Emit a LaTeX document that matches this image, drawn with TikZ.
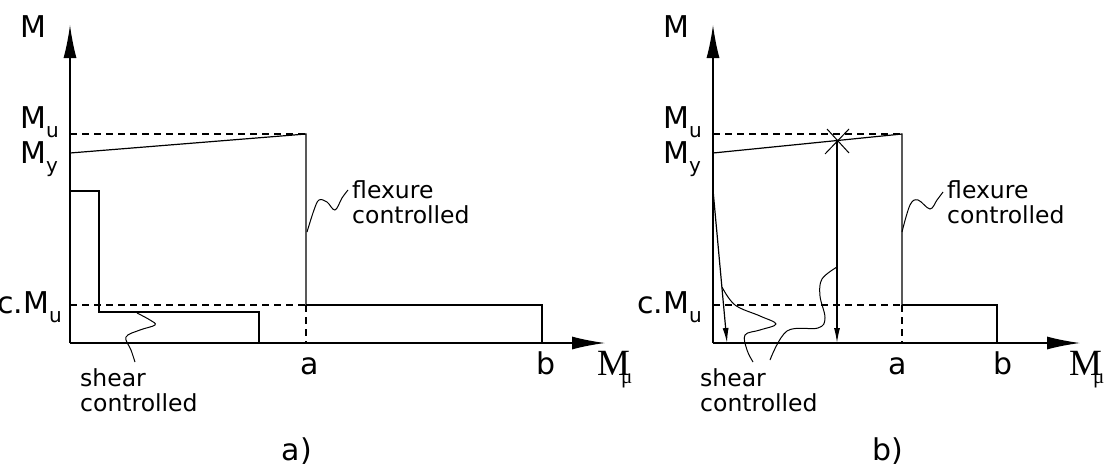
\documentclass[tikz,border=0pt]{standalone}
\usepackage{fontspec}
\setmainfont{DejaVu Sans}
\newfontfamily\serifmu{Liberation Serif}
\usetikzlibrary{arrows.meta}

\newcommand{\lowsub}[1]{\raisebox{-9pt}{\fontsize{20}{20}\selectfont #1}}
\newcommand{\mulabel}{{\serifmu\fontsize{37}{37}\selectfont M\kern-9pt\raisebox{-8pt}{\fontsize{21}{21}\selectfont μ}}}

\begin{document}
\begin{tikzpicture}[x=1pt, y=-1pt,
  % Line Styles
  curve/.style={line width=1.2pt, line join=miter},
  guide/.style={line width=1.2pt, dash pattern=on 7pt off 5pt},
  wiggle/.style={line width=1pt},
  % Arrow Styles
  axisarrow/.style={-{Latex[length=33pt,width=13pt]}, line width=1.3pt},
  drop/.style={-{Latex[length=15pt,width=6pt]}, line width=1.2pt},
  % Label Styles
  biglabel/.style={inner sep=0pt, font=\fontsize{30}{30}\selectfont},
  textlabel/.style={inner sep=0pt, align=left, anchor=north west, font=\fontsize{23.5}{25}\selectfont},
]
\useasboundingbox (0,0) rectangle (1118,471);

% Diagram a)

\coordinate (O_A) at (70,343);
\coordinate (Mu_A) at (306,134);
\coordinate (cMu_A) at (306,305);
\draw[axisarrow] (O_A) -- (70,25);
\draw[axisarrow] (O_A) -- (605,343);

\draw[guide] (70,134) -- (Mu_A);
\draw[curve] (70,153) -- (Mu_A) -- (cMu_A);
\draw[guide] (cMu_A) -- (306,343);
\draw[guide] (70,305) -- (cMu_A);
\draw[curve] (cMu_A) -- (542,305) -- (542,343);
\draw[curve] (70,191) -- (99,191) -- (99,312) -- (259,312) -- (259,343);

\node[biglabel, anchor=base west] (M_A) at (20,37) {M};
\node[biglabel, anchor=base west] (Mu_label_A) at (20,128) {M\lowsub{u}};
\node[biglabel, anchor=base west] (My_label_A) at (20,163) {M\lowsub{y}};
\node[biglabel, anchor=base east] (cMu_label_A) at (62,313) {c.M\lowsub{u}};
\node[biglabel, anchor=base] (a_A) at (310,374) {a};
\node[biglabel, anchor=base] (b_A) at (546,374) {b};
\node[inner sep=0pt, anchor=base west] (mu_A) at (597,375) {\mulabel};
\node[biglabel, anchor=base] (cap_A) at (297,460) {a)};

\node[textlabel] (flex_A) at (352,180) {flexure\\controlled};
\node[textlabel] (shear_A) at (80,368) {shear\\controlled};
\coordinate (flex_end_A) at (348,190);
\coordinate (shear_end_A) at (135,362);
\draw[wiggle] plot[smooth, tension=0.6] coordinates {(307,232) (314,210) (319,200) (327,202) (335,210) (342,198) (flex_end_A)};
\draw[wiggle] plot[smooth, tension=0.6] coordinates {(137,313) (150,320) (155,325) (140,330) (126,337) (131,350) (shear_end_A)};

% Diagram b)

\coordinate (O_B) at (713,343);
\coordinate (Mu_B) at (902,134);
\coordinate (cMu_B) at (902,305);
\coordinate (X_B) at (837,141);
\draw[axisarrow] (O_B) -- (713,25);
\draw[axisarrow] (O_B) -- (1080,343);

\draw[guide] (713,134) -- (Mu_B);
\draw[curve] (713,153) -- (Mu_B) -- (cMu_B);
\draw[guide] (cMu_B) -- (902,343);
\draw[guide] (713,305) -- (cMu_B);
\draw[curve] (cMu_B) -- (997,305) -- (997,343);

\draw[wiggle] (825,154) -- (849,129);
\draw[wiggle] (827,129) -- (849,153);
\draw[drop] (X_B) -- (837,343);
\draw[drop] (713,190) -- (727,343);

\node[biglabel, anchor=base west] (M_B) at (663,37) {M};
\node[biglabel, anchor=base west] (Mu_label_B) at (663,128) {M\lowsub{u}};
\node[biglabel, anchor=base west] (My_label_B) at (663,163) {M\lowsub{y}};
\node[biglabel, anchor=base east] (cMu_label_B) at (702,313) {c.M\lowsub{u}};
\node[biglabel, anchor=base] (a_B) at (898,374) {a};
\node[biglabel, anchor=base] (b_B) at (1003,374) {b};
\node[inner sep=0pt, anchor=base west] (mu_B) at (1069,375) {\mulabel};
\node[biglabel, anchor=base] (cap_B) at (888,460) {b)};

\node[textlabel] (flex_B) at (947,180) {flexure\\controlled};
\node[textlabel] (shear_B) at (700,368) {shear\\controlled};
\coordinate (flex_end_B) at (943,192);
\coordinate (shear_end_B1) at (753,362);
\coordinate (shear_end_B2) at (770,360);
\draw[wiggle] plot[smooth, tension=0.6] coordinates {(902,232) (910,205) (918,200) (930,209) (937,200) (flex_end_B)};
\draw[wiggle] plot[smooth, tension=0.6] coordinates {(722,287) (735,305) (760,316) (776,324) (760,330) (745,335) (747,350) (shear_end_B1)};
\draw[wiggle] plot[smooth, tension=0.6] coordinates {(837,267) (822,279) (820,296) (825,318) (818,328) (787,331) (shear_end_B2)};

\end{tikzpicture}
\end{document}
